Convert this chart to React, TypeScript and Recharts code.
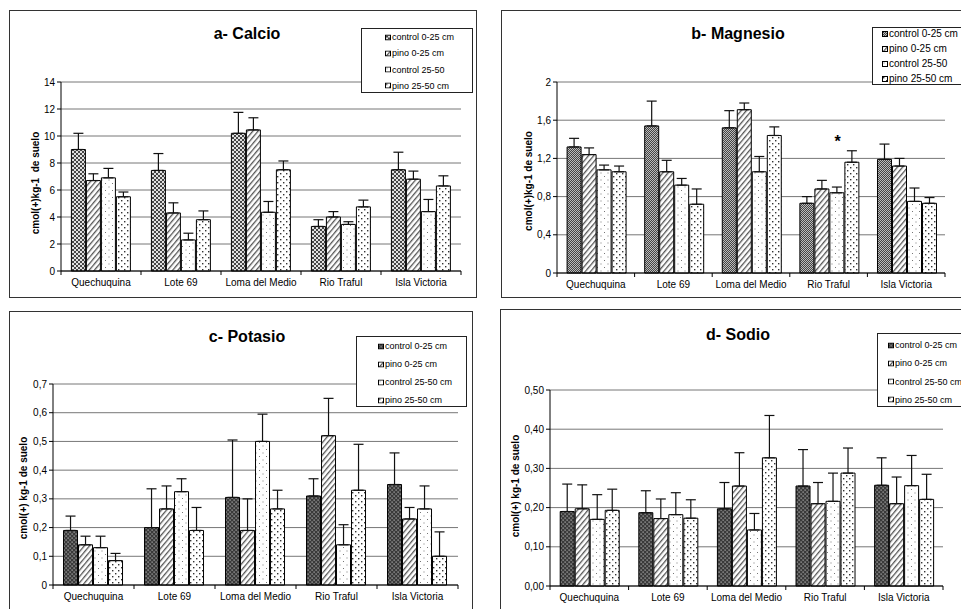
import React from "react";
import { BarChart, Bar, CartesianGrid, XAxis, YAxis, ErrorBar, ReferenceDot } from "recharts";

const sites = ["Quechuquina", "Lote 69", "Loma del Medio", "Rio Traful", "Isla Victoria"];

// a- Calcio (value and top of error bar)
const caCtrl0 = [9.0, 7.45, 10.2, 3.3, 7.5];
const caCtrl0Top = [10.2, 8.7, 11.75, 3.8, 8.8];
const caPino0 = [6.7, 4.3, 10.45, 4.0, 6.8];
const caPino0Top = [7.2, 5.05, 11.35, 4.4, 7.4];
const caCtrl25 = [6.9, 2.3, 4.35, 3.45, 4.4];
const caCtrl25Top = [7.6, 2.8, 5.15, 3.65, 5.3];
const caPino25 = [5.5, 3.8, 7.5, 4.75, 6.3];
const caPino25Top = [5.85, 4.45, 8.15, 5.25, 7.05];
const caTicks = [0, 2, 4, 6, 8, 10, 12, 14];

// b- Magnesio
const mgCtrl0 = [1.32, 1.54, 1.52, 0.73, 1.19];
const mgCtrl0Top = [1.41, 1.8, 1.7, 0.8, 1.35];
const mgPino0 = [1.24, 1.06, 1.71, 0.88, 1.12];
const mgPino0Top = [1.31, 1.18, 1.78, 0.97, 1.2];
const mgCtrl25 = [1.08, 0.92, 1.06, 0.84, 0.75];
const mgCtrl25Top = [1.13, 0.99, 1.22, 0.9, 0.89];
const mgPino25 = [1.06, 0.72, 1.44, 1.16, 0.73];
const mgPino25Top = [1.12, 0.88, 1.53, 1.28, 0.79];
const mgTicks = [0, 0.4, 0.8, 1.2, 1.6, 2];
const mgMarkSite = "Rio Traful";
const mgMarkValue = 1.38;

// c- Potasio
const kCtrl0 = [0.19, 0.2, 0.305, 0.31, 0.35];
const kCtrl0Top = [0.24, 0.335, 0.505, 0.37, 0.46];
const kPino0 = [0.14, 0.265, 0.19, 0.52, 0.23];
const kPino0Top = [0.17, 0.345, 0.3, 0.65, 0.27];
const kCtrl25 = [0.13, 0.325, 0.5, 0.14, 0.265];
const kCtrl25Top = [0.17, 0.37, 0.595, 0.21, 0.345];
const kPino25 = [0.085, 0.19, 0.265, 0.33, 0.1];
const kPino25Top = [0.11, 0.27, 0.33, 0.49, 0.185];
const kTicks = [0, 0.1, 0.2, 0.3, 0.4, 0.5, 0.6, 0.7];

// d- Sodio
const naCtrl0 = [0.19, 0.187, 0.197, 0.255, 0.257];
const naCtrl0Top = [0.26, 0.243, 0.264, 0.348, 0.327];
const naPino0 = [0.197, 0.172, 0.255, 0.21, 0.21];
const naPino0Top = [0.258, 0.222, 0.34, 0.264, 0.278];
const naCtrl25 = [0.17, 0.182, 0.143, 0.216, 0.256];
const naCtrl25Top = [0.233, 0.238, 0.185, 0.288, 0.333];
const naPino25 = [0.193, 0.173, 0.327, 0.288, 0.221];
const naPino25Top = [0.247, 0.22, 0.435, 0.352, 0.285];
const naTicks = [0, 0.1, 0.2, 0.3, 0.4, 0.5];

const legendShort = ["control 0-25 cm", "pino 0-25 cm", "control 25-50", "pino 25-50 cm"];
const legendLong = ["control 0-25 cm", "pino 0-25 cm", "control 25-50 cm", "pino 25-50 cm"];

const FONT = "'Liberation Sans', Arial, sans-serif";

function buildRows(vals: number[][], tops: number[][]) {
  return sites.map((site, i) => {
    const row: any = { site };
    vals.forEach((v, k) => {
      row[`s${k}`] = v[i];
      row[`e${k}`] = [0, Math.max(0, tops[k][i] - v[i])];
    });
    return row;
  });
}

function Patterns({ p, first }: { p: string; first: "cross" | "grey" | "dark" }) {
  return (
    <defs>
      {first === "cross" && (
        <pattern id={`${p}0`} width={4} height={4} patternUnits="userSpaceOnUse">
          <rect width={4} height={4} fill="#e0e0e0" />
          <path d="M0,0 L4,4 M4,0 L0,4" stroke="#333" strokeWidth={0.9} />
        </pattern>
      )}
      {first === "grey" && (
        <pattern id={`${p}0`} width={2} height={2} patternUnits="userSpaceOnUse">
          <rect width={2} height={2} fill="#bbb" />
          <rect width={1} height={1} fill="#444" />
          <rect x={1} y={1} width={1} height={1} fill="#444" />
        </pattern>
      )}
      {first === "dark" && (
        <pattern id={`${p}0`} width={4} height={4} patternUnits="userSpaceOnUse">
          <rect width={4} height={4} fill="#3a3a3a" />
          <rect x={0.5} y={0.5} width={1.2} height={1.2} fill="#bbb" />
          <rect x={2.5} y={2.5} width={1.2} height={1.2} fill="#bbb" />
        </pattern>
      )}
      <pattern id={`${p}1`} width={4} height={4} patternUnits="userSpaceOnUse" patternTransform="rotate(40)">
        <rect width={4} height={4} fill="#fff" />
        <rect width={1.3} height={4} fill="#555" />
      </pattern>
      <pattern id={`${p}2`} width={7} height={7} patternUnits="userSpaceOnUse">
        <rect width={7} height={7} fill="#fff" />
        <rect x={1.5} y={1.5} width={1} height={1} fill="#777" />
        <rect x={5} y={5} width={1} height={1} fill="#777" />
      </pattern>
      <pattern id={`${p}3`} width={6} height={6} patternUnits="userSpaceOnUse">
        <rect width={6} height={6} fill="#fff" />
        <rect x={1} y={1} width={1.4} height={1.4} fill="#333" />
        <rect x={4} y={4} width={1.4} height={1.4} fill="#333" />
      </pattern>
    </defs>
  );
}

type PanelProps = {
  id: string;
  left: number;
  top: number;
  frameW: number;
  frameH: number;
  chartW: number;
  chartH: number;
  margin: { top: number; right: number; bottom: number; left: number };
  yWidth: number;
  ticks: number[];
  decimals: number;
  first: "cross" | "grey" | "dark";
  rows: any[];
  title: string;
  titleX: number;
  titleY: number;
  yLabel: string;
  yLabelX: number;
  yLabelY: number;
  legend: { x: number; y: number; w: number; h: number; first: number; gap: number; sw: number; font: number };
  labels: string[];
  mark?: { site: string; value: number; dx: number };
};

function Panel(p: PanelProps) {
  const plotW = p.chartW - p.margin.left - p.margin.right - p.yWidth;
  const catW = plotW / sites.length;
  const fmt = (v: number) => (p.decimals > 0 ? v.toFixed(p.decimals) : String(v)).replace(".", ",");
  const maxY = p.ticks[p.ticks.length - 1];

  const XTick = (t: any) => {
    const { x, y, payload, index } = t;
    return (
      <g>
        <text x={x} y={y + 15} textAnchor="middle" fontSize={10} fontFamily={FONT} fill="#000">
          {payload.value}
        </text>
        <line x1={x + catW / 2} x2={x + catW / 2} y1={y} y2={y + 4} stroke="#000" />
        {index === 0 && <line x1={x - catW / 2} x2={x - catW / 2} y1={y} y2={y + 4} stroke="#000" />}
      </g>
    );
  };

  return (
    <div
      style={{
        position: "absolute",
        left: p.left,
        top: p.top,
        width: p.frameW,
        height: p.frameH,
        border: "1px solid #333",
        boxSizing: "border-box",
        background: "#fff",
      }}
    >
      <div style={{ position: "absolute", left: -1, top: -1 }}>
        <BarChart width={p.chartW} height={p.chartH} data={p.rows} margin={p.margin} barCategoryGap="13%" barGap={1}>
          <Patterns p={p.id} first={p.first} />
          <CartesianGrid vertical={false} stroke="#777" strokeWidth={1} />
          <XAxis
            dataKey="site"
            height={20}
            tickLine={false}
            tickSize={0}
            tickMargin={0}
            interval={0}
            axisLine={{ stroke: "#000" }}
            tick={<XTick />}
          />
          <YAxis
            width={p.yWidth}
            domain={[0, maxY]}
            ticks={p.ticks}
            tickFormatter={fmt}
            interval={0}
            tickSize={4}
            tick={{ fontSize: 10, fontFamily: FONT, fill: "#000" }}
            axisLine={{ stroke: "#000" }}
            tickLine={{ stroke: "#000" }}
          />
          <YAxis yAxisId="r" orientation="right" width={0} tick={false} tickLine={false} axisLine={{ stroke: "#888" }} />
          {[0, 1, 2, 3].map((k) => (
            <Bar key={k} dataKey={`s${k}`} fill={`url(#${p.id}${k})`} stroke="#000" strokeWidth={1} isAnimationActive={false}>
              <ErrorBar dataKey={`e${k}`} width={5} stroke="#111" strokeWidth={1.2} direction="y" isAnimationActive={false} />
            </Bar>
          ))}
          {p.mark && (
            <ReferenceDot
              x={p.mark.site}
              y={p.mark.value}
              r={0}
              shape={(s: any) => (
                <text x={s.cx + p.mark!.dx} y={s.cy + 6} textAnchor="middle" fontSize={16} fontWeight="bold" fontFamily={FONT}>
                  *
                </text>
              )}
            />
          )}
        </BarChart>
      </div>
      <div
        style={{
          position: "absolute",
          left: p.titleX,
          top: p.titleY,
          transform: "translate(-50%, -50%)",
          fontFamily: FONT,
          fontWeight: "bold",
          fontSize: 16,
          whiteSpace: "nowrap",
        }}
      >
        {p.title}
      </div>
      <div
        style={{
          position: "absolute",
          left: p.yLabelX,
          top: p.yLabelY,
          transform: "translate(-50%, -50%) rotate(-90deg)",
          fontFamily: FONT,
          fontWeight: "bold",
          fontSize: 10,
          whiteSpace: "pre",
        }}
      >
        {p.yLabel}
      </div>
      <div
        style={{
          position: "absolute",
          left: p.legend.x,
          top: p.legend.y,
          width: p.legend.w,
          height: p.legend.h,
          border: "1px solid #222",
          boxSizing: "border-box",
          background: "#fff",
        }}
      >
        {p.labels.map((lab, k) => (
          <div
            key={k}
            style={{
              position: "absolute",
              left: p.legend.sw,
              top: p.legend.first + k * p.legend.gap,
              transform: "translateY(-50%)",
              display: "flex",
              alignItems: "center",
              fontFamily: FONT,
              fontSize: p.legend.font,
              whiteSpace: "nowrap",
              lineHeight: 1,
            }}
          >
            <svg width={6} height={6} style={{ marginRight: 1 }}>
              <rect x={0.5} y={0.5} width={5} height={5} fill={`url(#${p.id}${k})`} stroke="#000" />
            </svg>
            {lab}
          </div>
        ))}
      </div>
    </div>
  );
}

export default function App() {
  const caRows = buildRows([caCtrl0, caPino0, caCtrl25, caPino25], [caCtrl0Top, caPino0Top, caCtrl25Top, caPino25Top]);
  const mgRows = buildRows([mgCtrl0, mgPino0, mgCtrl25, mgPino25], [mgCtrl0Top, mgPino0Top, mgCtrl25Top, mgPino25Top]);
  const kRows = buildRows([kCtrl0, kPino0, kCtrl25, kPino25], [kCtrl0Top, kPino0Top, kCtrl25Top, kPino25Top]);
  const naRows = buildRows([naCtrl0, naPino0, naCtrl25, naPino25], [naCtrl0Top, naPino0Top, naCtrl25Top, naPino25Top]);

  return (
    <div style={{ position: "absolute", left: 0, top: 0, width: 961, height: 609, overflow: "hidden", background: "#fff" }}>
      <Panel
        id="pa"
        left={9}
        top={10}
        frameW={468}
        frameH={288}
        chartW={468}
        chartH={288}
        margin={{ top: 72, right: 16, bottom: 7, left: 0 }}
        yWidth={52}
        ticks={caTicks}
        decimals={0}
        first="cross"
        rows={caRows}
        title="a- Calcio"
        titleX={237}
        titleY={23}
        yLabel="cmol(+)kg-1  de suelo"
        yLabelX={25}
        yLabelY={172}
        legend={{ x: 351, y: 17, w: 112, h: 65, first: 8, gap: 16.3, sw: 23, font: 9 }}
        labels={legendShort}
      />
      <Panel
        id="pb"
        left={501}
        top={10}
        frameW={470}
        frameH={288}
        chartW={460}
        chartH={288}
        margin={{ top: 72, right: 16, bottom: 5, left: 0 }}
        yWidth={56}
        ticks={mgTicks}
        decimals={0}
        first="grey"
        rows={mgRows}
        title="b- Magnesio"
        titleX={236}
        titleY={23}
        yLabel="cmol(+)kg-1 de suelo"
        yLabelX={26}
        yLabelY={170}
        legend={{ x: 370, y: 16, w: 100, h: 58, first: 6, gap: 15, sw: 9, font: 10 }}
        labels={legendShort}
        mark={{ site: mgMarkSite, value: mgMarkValue, dx: 9 }}
      />
      <Panel
        id="pc"
        left={9}
        top={311}
        frameW={464}
        frameH={310}
        chartW={464}
        chartH={298}
        margin={{ top: 73, right: 15, bottom: 4, left: 0 }}
        yWidth={44}
        ticks={kTicks}
        decimals={0}
        first="dark"
        rows={kRows}
        title="c- Potasio"
        titleX={237}
        titleY={25}
        yLabel="cmol(+) kg-1 de suelo"
        yLabelX={13}
        yLabelY={176}
        legend={{ x: 346, y: 24, w: 111, h: 71, first: 9, gap: 18, sw: 21, font: 9 }}
        labels={legendLong}
      />
      <Panel
        id="pd"
        left={500}
        top={309}
        frameW={470}
        frameH={310}
        chartW={461}
        chartH={300}
        margin={{ top: 81, right: 18, bottom: 3, left: 0 }}
        yWidth={50}
        ticks={naTicks}
        decimals={2}
        first="dark"
        rows={naRows}
        title="d- Sodio"
        titleX={237}
        titleY={25}
        yLabel="cmol(+) kg-1 de suelo"
        yLabelX={14}
        yLabelY={176}
        legend={{ x: 376, y: 23, w: 100, h: 74, first: 11, gap: 18.3, sw: 10, font: 9 }}
        labels={legendLong}
      />
    </div>
  );
}
